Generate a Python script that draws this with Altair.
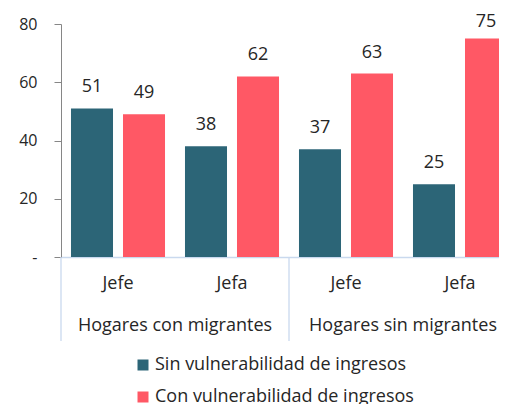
import altair as alt
import pandas as pd

grupos = ["Hogares con migrantes", "Hogares con migrantes", "Hogares sin migrantes", "Hogares sin migrantes"]
jefatura = ["Jefe", "Jefa", "Jefe", "Jefa"]
sin_vuln = [51, 38, 37, 25]
con_vuln = [49, 62, 63, 75]
series = ["Sin vulnerabilidad de ingresos", "Con vulnerabilidad de ingresos"]
colores = ["#2C6577", "#FF5865"]
grupos_unicos = ["Hogares con migrantes", "Hogares sin migrantes"]

keys = [g + "|" + j for g, j in zip(grupos, jefatura)]
rows = []
for k, s, c in zip(keys, sin_vuln, con_vuln):
    rows.append({"key": k, "serie": series[0], "valor": s})
    rows.append({"key": k, "serie": series[1], "valor": c})
df = pd.DataFrame(rows)

df_grp = pd.DataFrame({
    "grupo": grupos_unicos,
    "inicio": [g + "|Jefe" for g in grupos_unicos],
    "centro": [g + "|Jefa" for g in grupos_unicos],
})

FONT = "Open Sans"
TXT = "#262626"
BLUE = "#C9D9EE"
H = 233
W = 438
XR = 456
LABEL_CAP = 73.6  # data labels kept inside the chart area, as the spreadsheet does

xscale = alt.Scale(domain=keys, range=[0, XR], paddingInner=0, paddingOuter=0)

x_enc = alt.X("key:N", sort=keys, scale=xscale,
              axis=alt.Axis(title=None, labelAngle=0, ticks=False, domainColor=BLUE,
                            domainWidth=1.3, labelFontSize=18, labelFont=FONT, labelColor=TXT,
                            labelPadding=17, labelExpr="split(datum.label, '|')[1]"))
xo_enc = alt.XOffset("serie:N", sort=series,
                     scale=alt.Scale(domain=series, paddingInner=0.192, paddingOuter=0.192))
y_enc = alt.Y("valor:Q", scale=alt.Scale(domain=[0, 80], nice=False),
              axis=alt.Axis(title=None, values=[0, 20, 40, 60, 80], grid=False,
                            labelExpr="datum.value == 0 ? '-' : datum.label",
                            domainColor="#868686", tickColor="#868686", tickSize=7,
                            labelPadding=17, labelFontSize=16, labelFont=FONT, labelColor=TXT))

bars = alt.Chart(df).mark_bar().encode(
    x=x_enc, xOffset=xo_enc, y=y_enc,
    color=alt.Color("serie:N", sort=series, scale=alt.Scale(domain=series, range=colores),
                    legend=alt.Legend(title=None, orient="none", legendX=73, legendY=332,
                                      direction="vertical", labelLimit=0,
                                      symbolType="square", symbolSize=121, symbolStrokeWidth=0,
                                      labelFontSize=18, labelFont=FONT, labelColor=TXT,
                                      rowPadding=14, symbolOffset=0, labelOffset=3)),
)

labels = alt.Chart(df).transform_calculate(
    ypos=f"min(datum.valor, {LABEL_CAP})"
).mark_text(fontSize=18, font=FONT, color=TXT, dy=-16, baseline="alphabetic").encode(
    x=alt.X("key:N", sort=keys), xOffset=alt.XOffset("serie:N", sort=series),
    y=alt.Y("ypos:Q"), text=alt.Text("valor:Q"),
)

sep = alt.Chart(df_grp).mark_rule(color=BLUE, strokeWidth=1.3).encode(
    x=alt.X("inicio:N", bandPosition=0), y=alt.value(H), y2=alt.value(H + 84)
)

grp_text = alt.Chart(df_grp).mark_text(fontSize=18, font=FONT, color=TXT,
                                       baseline="middle").encode(
    x=alt.X("centro:N", bandPosition=0), y=alt.value(H + 69), text="grupo:N"
)

chart = alt.layer(bars, labels, sep, grp_text).properties(
    width=W, height=H,
    autosize=alt.AutoSizeParams(type="none"),
    padding={"left": 53, "top": 16, "right": 0, "bottom": 147},
).configure_view(stroke=None)

chart.save("out.html", embed_options={"renderer": "svg", "actions": False})
